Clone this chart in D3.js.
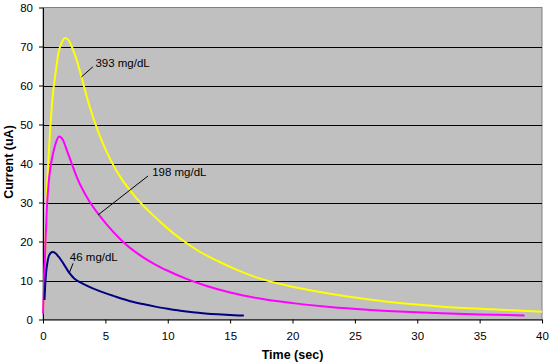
<!DOCTYPE html>
<html><head><meta charset="utf-8">
<script src="https://cdn.jsdelivr.net/npm/d3@7"></script>
<style>body{margin:0;background:#fff}svg{display:block}text{font-family:"Liberation Sans",Arial,sans-serif}</style>
</head><body>
<script>
const xTicks = [0,5,10,15,20,25,30,35,40];
const yTicks = [0,10,20,30,40,50,60,70,80];

const t393 = [0,0.1,0.2,0.3,0.45,0.6,0.8,1.0,1.25,1.5,1.75,2.0,2.3,2.7,3.1,3.7,4.5,5.4,6.2,7,7.8,9,10,11.1,12.5,14,15.5,17.3,20,23,26,29,32,36,40];
const v393 = [2,8,20,32,42,50,58,63,68.5,71,72.2,71.8,70,66.5,62,55,47.5,41,36.5,33,30,26.2,23.3,20.5,17.5,15,12.8,10.6,8.4,6.6,5.2,4.1,3.3,2.6,2.0];

const t198 = [0,0.1,0.2,0.3,0.45,0.6,0.8,1.0,1.3,1.6,1.9,2.3,2.7,3.2,3.7,4.4,5.1,6.2,7,8,9,10,11.5,13,15,17.5,20,23,26,29,32,35,38.6];
const v198 = [1.5,10,20,28,35,39,42.5,45,46.9,46,43.5,40,36.6,33.2,30.4,27.2,24.4,20.6,18.3,16,14.1,12.5,10.4,8.7,6.9,5.3,4.2,3.2,2.5,2.0,1.6,1.3,1.05];

const t46 = [0.12,0.18,0.25,0.35,0.5,0.75,1.0,1.25,1.5,1.8,2.1,2.5,3,3.5,4.6,5.5,6.2,7,8,9,10,11,12,13,14,15,16.1];
const v46 = [5,9,12,14.5,16.5,17.3,17,16.1,15,13.5,12,10.5,9.5,8.7,7.2,6.2,5.45,4.7,3.95,3.3,2.75,2.25,1.85,1.55,1.32,1.15,1.0];

const seriesNames = ["393 mg/dL","198 mg/dL","46 mg/dL"];
const seriesColors = ["#FFFF00","#FF00FF","#000080"];

const W=556,H=364;
const m={left:43,right:14,top:7.5,bottom:44.5};
const svg=d3.select("body").append("svg").attr("width",W).attr("height",H);
const x=d3.scaleLinear().domain([0,40]).range([m.left,W-m.right]);
const y=d3.scaleLinear().domain([0,80]).range([H-m.bottom,m.top]);

svg.append("rect").attr("x",x(0)).attr("y",y(80)).attr("width",x(40)-x(0)).attr("height",y(0)-y(80))
  .attr("fill","#C0C0C0").attr("stroke","#808080").attr("stroke-width",1);

svg.append("g").selectAll("line").data(yTicks.filter(d=>d>0&&d<80)).join("line")
  .attr("x1",x(0)).attr("x2",x(40)).attr("y1",d=>Math.round(y(d))+0.5).attr("y2",d=>Math.round(y(d))+0.5)
  .attr("stroke","#000").attr("stroke-width",1);

const tf=s=>s.attr("font-size","11.5px").attr("fill","#000");
const xa=svg.append("g").attr("transform",`translate(0,${y(0)})`)
  .call(d3.axisBottom(x).tickValues(xTicks).tickSize(4).tickPadding(8).tickSizeOuter(0));
const ya=svg.append("g").attr("transform",`translate(${x(0)},0)`)
  .call(d3.axisLeft(y).tickValues(yTicks).tickSize(4).tickPadding(6).tickSizeOuter(0));
[xa,ya].forEach(a=>{a.selectAll("text").call(tf).attr("font-family","Liberation Sans, Arial, sans-serif");a.select(".domain").attr("stroke","#000");a.selectAll(".tick line").attr("stroke","#000");});

const line=d3.line().x(d=>x(d[0])).y(d=>y(d[1])).curve(d3.curveMonotoneX);
const series=[[t393,v393],[t198,v198],[t46,v46]];
series.forEach((s,i)=>{
  const pts=s[0].map((t,j)=>[t,s[1][j]]);
  svg.append("path").datum(pts).attr("d",line).attr("fill","none")
    .attr("stroke",seriesColors[i]).attr("stroke-width",2);
});

// annotations (data coordinates)
const ann=[
  {name:seriesNames[0],l:[[3.08,62.2],[4.0,64.8]],tx:4.2,ty:65.8},
  {name:seriesNames[1],l:[[4.41,26.8],[8.42,36.8]],tx:8.75,ty:37.9},
  {name:seriesNames[2],l:[[2.09,11.8],[2.41,14.4]],tx:2.15,ty:16.1}
];
ann.forEach(a=>{
  svg.append("line").attr("x1",x(a.l[0][0])).attr("y1",y(a.l[0][1])).attr("x2",x(a.l[1][0])).attr("y2",y(a.l[1][1]))
    .attr("stroke","#000").attr("stroke-width",1);
  svg.append("text").attr("x",x(a.tx)).attr("y",y(a.ty)).attr("dy","0.35em")
    .attr("font-size","11.5px").attr("fill","#000").text(a.name);
});

svg.append("text").attr("x",292.5).attr("y",359).attr("text-anchor","middle")
  .attr("font-size","12.5px").attr("font-weight","bold").text("Time (sec)");
svg.append("text").attr("transform","translate(13,162) rotate(-90)").attr("text-anchor","middle")
  .attr("font-size","12.5px").attr("font-weight","bold").text("Current (uA)");
</script>
</body></html>
